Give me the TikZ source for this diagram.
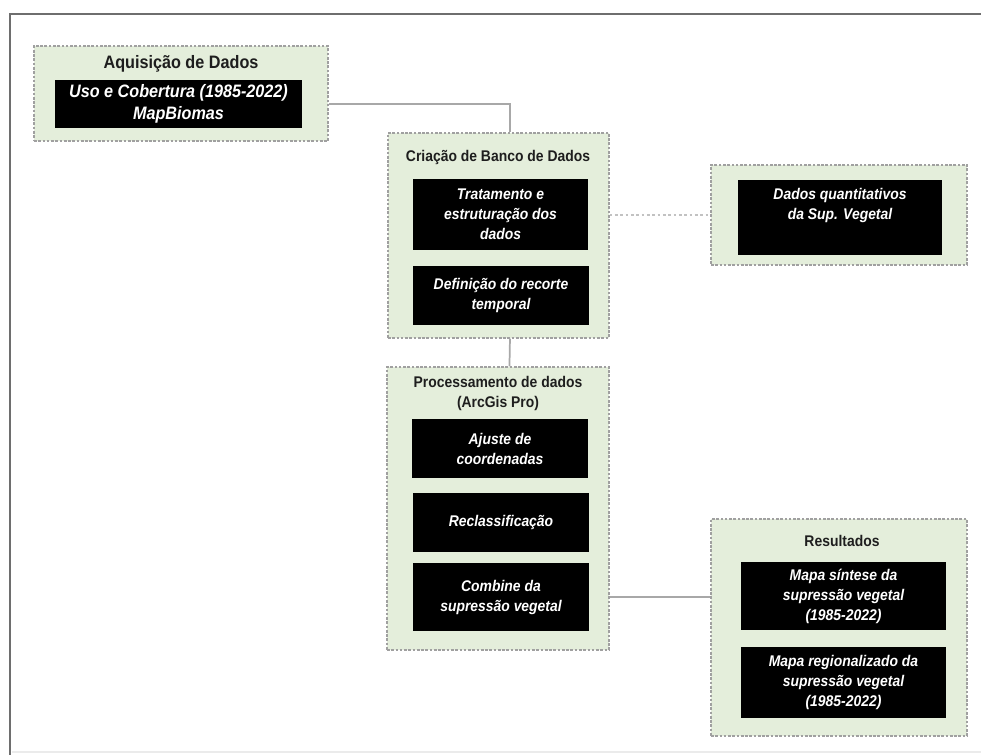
\documentclass[tikz,border=0pt]{standalone}
\usepackage{fontspec}
\setmainfont{Liberation Sans}[FakeStretch=0.9]
\usetikzlibrary{fit,calc}
\definecolor{grpfill}{HTML}{E4EEDB}
\definecolor{grpdraw}{HTML}{A0A0A0}
\definecolor{conncol}{HTML}{A8A8A8}
\definecolor{framecol}{HTML}{6E6E6E}
\definecolor{titlecol}{HTML}{1E1E1E}
\begin{document}
\begin{tikzpicture}[x=0.75pt,y=-0.75pt,
  group/.style={draw=grpdraw, fill=grpfill, dash pattern=on 2pt off 1.2pt, line width=0.8pt, inner sep=0pt},
  blk/.style={fill=black, inner sep=0pt},
  blktext/.style={inner sep=0pt, text=white, font=\bfseries\itshape\fontsize{11.6}{15}\selectfont, align=center},
  bigtext/.style={blktext, font=\bfseries\itshape\fontsize{13.5}{16}\selectfont},
  grptitle/.style={text=titlecol, font=\bfseries\fontsize{11.6}{15}\selectfont, align=center, inner sep=0pt},
  bigtitle/.style={grptitle, font=\bfseries\fontsize{13.5}{16}\selectfont},
  conn/.style={draw=conncol, line width=1.3pt},
  dotconn/.style={draw=conncol!70, line width=1.2pt, dash pattern=on 2pt off 2pt}]
\useasboundingbox (0,0) rectangle (981,755);
\fill[white] (0,0) rectangle (981,755);
% frame
\draw[framecol, line width=2.2pt] (10,755) -- (10,14) -- (981,14);
\draw[black!8, line width=1pt] (12,752) -- (981,752);

% groups
\node[group, fit={(34,46) (328,141)}] (acq) {};
\node[group, fit={(388,133) (609,338)}] (cri) {};
\node[group, fit={(711,165) (967,265)}] (dad) {};
\node[group, fit={(387,367) (609,650)}] (proc) {};
\node[group, fit={(711,519) (967,736)}] (res) {};

% titles
\node[bigtitle] (tacq) at (181,64) {Aquisição de Dados};
\node[grptitle] (tcri) at (498,158) {Criação de Banco de Dados};
\node[grptitle] (tproc) at (498,394) {Processamento de dados\\(ArcGis Pro)};
\node[grptitle] (tres) at (842,541) {Resultados};

% black boxes
\node[blk, fit={(55,80) (302,128)}] (b1) {};
\node[bigtext] (b1t) at (b1) {Uso e Cobertura (1985-2022)\\MapBiomas};
\node[blk, fit={(413,179) (588,250)}] (c1) {};
\node[blktext] (c1t) at (c1) {Tratamento e\\estruturação dos\\dados};
\node[blk, fit={(413,266) (589,325)}] (c2) {};
\node[blktext] (c2t) at (c2) {Definição do recorte\\temporal};
\node[blk, fit={(738,180) (942,255)}] (d1) {};
\node[blktext, anchor=north] (d1t) at (840,188) {Dados quantitativos\\da Sup. Vegetal};
\node[blk, fit={(412,419) (588,478)}] (p1) {};
\node[blktext] (p1t) at (p1) {Ajuste de\\coordenadas};
\node[blk, fit={(413,493) (589,552)}] (p2) {};
\node[blktext] (p2t) at (p2) {Reclassificação};
\node[blk, fit={(413,563) (589,631)}] (p3) {};
\node[blktext] (p3t) at (p3) {Combine da\\supressão vegetal};
\node[blk, fit={(741,562) (946,630)}] (r1) {};
\node[blktext] (r1t) at (r1) {Mapa síntese da\\supressão vegetal\\(1985-2022)};
\node[blk, fit={(741,647) (946,718)}] (r2) {};
\node[blktext] (r2t) at (r2) {Mapa regionalizado da\\supressão vegetal\\(1985-2022)};

% connectors
\draw[conn] (acq.east |- b1) -| ([xshift=8.6pt]cri.north);
\draw[conn] ([xshift=8.6pt]cri.south) -- ([xshift=8.6pt]proc.north);
\draw[dotconn] (cri.east |- 0,215) -- (dad.west |- 0,215);
\draw[conn] (p3 -| proc.east) -- (p3 -| res.west);
\end{tikzpicture}
\end{document}
